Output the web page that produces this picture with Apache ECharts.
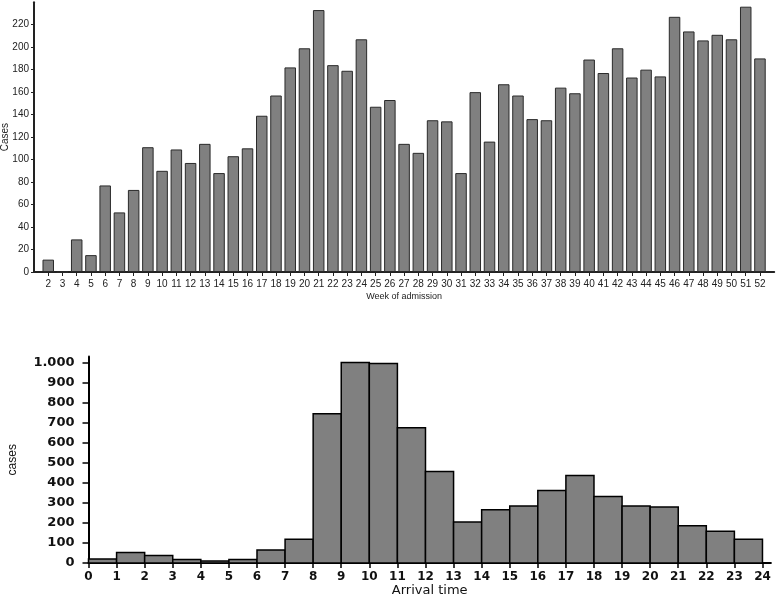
<!DOCTYPE html>
<html>
<head>
<meta charset="utf-8">
<script src="https://cdn.jsdelivr.net/npm/echarts@6/dist/echarts.min.js"></script>
<style>
html,body{margin:0;padding:0;background:#fff;}
#chart{width:778px;height:595px;}
</style>
</head>
<body>
<div id="chart"></div>
<script>
// ---- Data: top chart (cases by week of admission) ----
var weeks = [2,3,4,5,6,7,8,9,10,11,12,13,14,15,16,17,18,19,20,21,22,23,24,25,26,27,28,29,30,31,32,33,34,35,36,37,38,39,40,41,42,43,44,45,46,47,48,49,50,51,52];
var weekCases = [11,0,29,15,77,53,73,111,90,109,97,114,88,103,110,139,157,182,199,233,184,179,207,147,153,114,106,135,134,88,160,116,167,157,136,135,164,159,189,177,199,173,180,174,227,214,206,211,207,236,190];
var weekYTicks = [0,20,40,60,80,100,120,140,160,180,200,220];

// ---- Data: bottom chart (cases by arrival hour) ----
var hourStart = [0,1,2,3,4,5,6,7,8,9,10,11,12,13,14,15,16,17,18,19,20,21,22,23];
var arrivalCases = [20,52,37,18,10,18,65,118,745,1000,995,674,456,204,266,284,362,436,332,284,279,186,158,119];
var hourTicks = [0,1,2,3,4,5,6,7,8,9,10,11,12,13,14,15,16,17,18,19,20,21,22,23,24];
var arrivalYTicks = [0,100,200,300,400,500,600,700,800,900,1000];

function deNum(v){ return String(v).replace(/\B(?=(\d{3})+(?!\d))/g, '.'); }

var chart = echarts.init(document.getElementById('chart'), null, {renderer:'canvas'});

var weekData = weeks.map(function(w,i){ return [w, weekCases[i]]; });
var hourData = hourStart.map(function(h,i){ return [h, arrivalCases[i]]; });

var topFont = 'Liberation Sans, Arial, sans-serif';
var botFont = 'DejaVu Sans, sans-serif';

chart.setOption({
  animation:false,
  grid:[
    {left:34, width:740.2, top:2.2, height:269.8, outerBoundsMode:'none', containLabel:false},
    {left:88.5, width:682.4, top:356.5, height:206.5, outerBoundsMode:'none', containLabel:false}
  ],
  xAxis:[
    {
      gridIndex:0, type:'value', min:1, max:53,
      splitLine:{show:false},
      axisLine:{show:true, onZero:false, lineStyle:{color:'#222', width:2}},
      axisTick:{show:true, length:4, customValues:weeks, lineStyle:{color:'#222', width:1}},
      axisLabel:{customValues:weeks, margin:7, fontSize:10, color:'#222', fontFamily:topFont},
      name:'Week of admission', nameLocation:'middle', nameGap:20,
      nameTextStyle:{fontSize:9, color:'#222', fontFamily:topFont}
    },
    {
      gridIndex:1, type:'value', min:0, max:24.3,
      splitLine:{show:false},
      axisLine:{show:true, onZero:false, lineStyle:{color:'#000', width:2}},
      axisTick:{show:true, length:5, customValues:hourTicks, lineStyle:{color:'#000', width:1.5}},
      axisLabel:{customValues:hourTicks, margin:8, fontSize:12, fontWeight:'bold', color:'#111', fontFamily:botFont},
      name:'Arrival time', nameLocation:'middle', nameGap:21,
      nameTextStyle:{fontSize:13, color:'#111', fontFamily:botFont}
    }
  ],
  yAxis:[
    {
      gridIndex:0, type:'value', min:0, max:240,
      splitLine:{show:false},
      axisLine:{show:true, lineStyle:{color:'#222', width:2}},
      axisTick:{show:true, length:3, customValues:weekYTicks, lineStyle:{color:'#222', width:1}},
      axisLabel:{customValues:weekYTicks, margin:5, fontSize:10, color:'#222', fontFamily:topFont},
      name:'Cases', nameLocation:'middle', nameGap:24, nameMoveOverlap:false,
      nameTextStyle:{fontSize:10, color:'#222', fontFamily:topFont}
    },
    {
      gridIndex:1, type:'value', min:0, max:1030,
      splitLine:{show:false},
      axisLine:{show:true, lineStyle:{color:'#000', width:2}},
      axisTick:{show:true, length:6, customValues:arrivalYTicks, lineStyle:{color:'#000', width:1.5}},
      axisLabel:{customValues:arrivalYTicks, margin:14, fontSize:13, fontWeight:'bold', color:'#111', fontFamily:botFont,
        formatter:function(v){ return deNum(v); }},
      name:'cases', nameLocation:'middle', nameGap:70,
      nameTextStyle:{fontSize:12, color:'#111', fontFamily:'Liberation Sans, Arial, sans-serif'}
    }
  ],
  series:[
    {
      type:'bar', xAxisIndex:0, yAxisIndex:0,
      data:weekData, barWidth:11.5,
      itemStyle:{color:'#808080', borderColor:'#2a2a2a', borderWidth:1}
    },
    {
      type:'custom', xAxisIndex:1, yAxisIndex:1,
      data:hourData,
      encode:{x:0, y:1},
      renderItem:function(params, api){
        var h = api.value(0), v = api.value(1);
        var p0 = api.coord([h, 0]);
        var p1 = api.coord([h + 1, v]);
        return {
          type:'rect',
          shape:{x:p0[0], y:p1[1], width:p1[0]-p0[0], height:p0[1]-p1[1]},
          style:{fill:'#808080', stroke:'#000', lineWidth:1.5}
        };
      }
    }
  ]
});
</script>
</body>
</html>
